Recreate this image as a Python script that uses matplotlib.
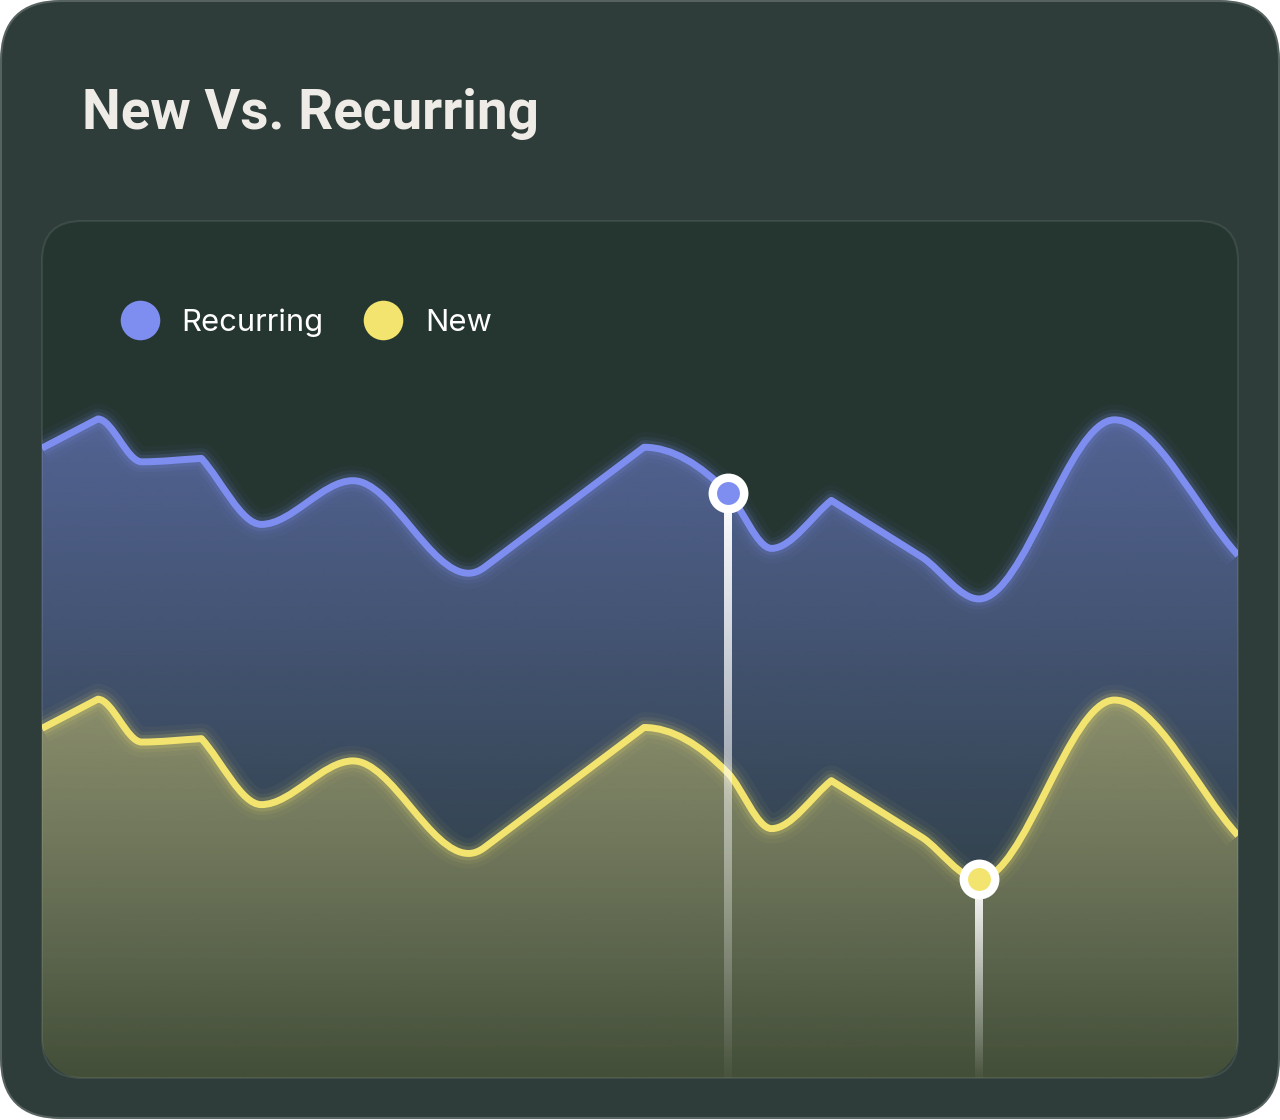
import numpy as np
import matplotlib
matplotlib.use("Agg")
import matplotlib.pyplot as plt
from matplotlib.path import Path
from matplotlib.patches import PathPatch, FancyBboxPatch, Polygon
from matplotlib.lines import Line2D
from matplotlib.transforms import Affine2D
from matplotlib.colors import to_rgba

# ---- data ----
days = [0, 1.4, 2.5, 4.0, 5.5, 7.8, 10.7, 11.1, 15.1, 17.2, 18.3, 19.8, 22.1, 23.5, 26.9, 30]
recurring = [73.5, 76.9, 71.9, 72.3, 64.6, 69.7, 58.9, 59.6, 73.6, 68.3, 61.8, 67.4, 60.7, 55.9, 76.8, 61.0]
new = [40.8, 44.2, 39.2, 39.6, 31.9, 37.0, 26.2, 26.9, 40.9, 35.6, 29.1, 34.7, 28.0, 23.2, 44.1, 28.3]
highlight_recurring = 9
highlight_new = 13

BLUE = "#7d8ef0"
YELLOW = "#f2e46e"
CARD = "#2e3d3a"
PANEL = "#253530"

W, H = 1280, 1120

# where the curve has a kink: (left tangent, right tangent)
kinks = {1: ("chord", 0.0), 3: ("chord", "chord"), 7: ("chord+", "chord"), 8: ("chord", 0.0),
         11: ("chord", "chord"), 12: ("chord", None), 15: ("chord", None)}


def smooth_path(x, y, close_to=None):
    x = np.asarray(x, float)
    y = np.asarray(y, float)
    n = len(x)
    h = np.diff(x)
    s = np.diff(y) / h
    t = np.zeros(n)
    for i in range(1, n - 1):
        s0, s1 = s[i - 1], s[i]
        p = (s0 * h[i] + s1 * h[i - 1]) / (h[i - 1] + h[i])
        t[i] = (np.sign(s0) + np.sign(s1)) * min(abs(s0), abs(s1), 0.5 * abs(p))
    tl = t.copy()
    tr = t.copy()
    for i, (lk, rk) in kinks.items():
        if lk == "chord":
            tl[i] = s[i - 1]
        elif lk == "chord+":
            tl[i] = s[i]
        elif lk is not None:
            tl[i] = lk
        if rk == "chord":
            tr[i] = s[i]
        elif rk is not None:
            tr[i] = rk
    if 0 not in kinks:
        tr[0] = (3 * s[0] - tl[1]) / 2
    if n - 1 not in kinks:
        tl[-1] = (3 * s[-1] - tr[-2]) / 2

    verts = [(x[0], y[0])]
    codes = [Path.MOVETO]
    for i in range(n - 1):
        d = h[i] / 3
        verts += [(x[i] + d, y[i] + tr[i] * d),
                  (x[i + 1] - d, y[i + 1] - tl[i + 1] * d),
                  (x[i + 1], y[i + 1])]
        codes += [Path.CURVE4] * 3
    if close_to is not None:
        verts += [(x[-1], close_to), (x[0], close_to), (x[0], y[0])]
        codes += [Path.LINETO, Path.LINETO, Path.CLOSEPOLY]
    return Path(verts, codes)


def gradient_fill(ax, path, color, a_top, a_bot, top, z):
    rgba = np.zeros((256, 1, 4))
    rgba[..., :3] = to_rgba(color)[:3]
    rgba[:, 0, 3] = np.linspace(a_top, a_bot, 256)
    im = ax.imshow(rgba, extent=[days[0], days[-1], 0, top], aspect="auto",
                   origin="upper", interpolation="bilinear", zorder=z)
    im.set_clip_path(path, ax.transData)


def glow_line(ax, path, color, z):
    for lw, a in [(22, 0.04), (15, 0.07), (10, 0.14)]:
        ax.add_patch(PathPatch(path, fill=False, ec=color, lw=lw, alpha=a,
                               capstyle="butt", joinstyle="round", zorder=z))
    ax.add_patch(PathPatch(path, fill=False, ec=color, lw=5,
                           capstyle="butt", joinstyle="round", zorder=z + 0.1))


def drop_line(ax, x, y, z):
    rgba = np.ones((256, 1, 4))
    rgba[:, 0, 3] = np.linspace(1.0, 0.03, 256)
    half = 0.088
    ax.imshow(rgba, extent=[x - half, x + half, 0, y], aspect="auto",
              origin="upper", interpolation="bilinear", zorder=z)


fig = plt.figure(figsize=(W / 100, H / 100), dpi=100)
fig.patch.set_facecolor("white")
px = Affine2D().scale(1 / W, -1 / H).translate(0, 1) + fig.transFigure

card = FancyBboxPatch((1, 1), W - 2, H - 3, boxstyle="round,pad=0,rounding_size=60",
                      transform=px, fc=CARD, ec="#56625f", lw=1.5, zorder=-10)
fig.patches.append(card)

p_left, p_top, p_right, p_bot, r = 42, 221, 1238, 1078, 40
panel = FancyBboxPatch((p_left, p_top), p_right - p_left, p_bot - p_top,
                       boxstyle="round,pad=0,rounding_size=%d" % r,
                       transform=px, fc=PANEL, ec="none", zorder=-9)
fig.patches.append(panel)

ax = fig.add_axes([p_left / W, (H - p_bot) / H, (p_right - p_left) / W, (p_bot - p_top) / H])
ax.set_facecolor("none")
ax.axis("off")

rec_line = smooth_path(days, recurring)
rec_area = smooth_path(days, recurring, close_to=0)
new_line = smooth_path(days, new)
new_area = smooth_path(days, new, close_to=0)

gradient_fill(ax, rec_area, BLUE, 0.52, 0.0, max(recurring), 1)
glow_line(ax, rec_line, BLUE, 2)
gradient_fill(ax, new_area, YELLOW, 0.42, 0.15, max(new), 3)
glow_line(ax, new_line, YELLOW, 4)

for idx, vals, col in [(highlight_recurring, recurring, BLUE), (highlight_new, new, YELLOW)]:
    drop_line(ax, days[idx], vals[idx], 5)
    ax.plot([days[idx]], [vals[idx]], marker="o", ms=22.6, mew=6.1, mfc=col,
            mec="white", zorder=6)

ax.set_xlim(days[0], days[-1])
ax.set_ylim(0, 100)

# cover the fills outside the rounded bottom corners of the panel
th = np.radians(np.linspace(90, 180, 40))
bl = [(p_left - 1, p_bot - r), (p_left - 1, p_bot + 1), (p_left + r, p_bot + 1)] + \
     list(zip(p_left + r + r * np.cos(th), p_bot - r + r * np.sin(th)))
th = np.radians(np.linspace(0, 90, 40))
br = [(p_right - r, p_bot + 1), (p_right + 1, p_bot + 1), (p_right + 1, p_bot - r)] + \
     list(zip(p_right - r + r * np.cos(th), p_bot - r + r * np.sin(th)))
for pts in (bl, br):
    fig.patches.append(Polygon(pts, closed=True, transform=px, fc=CARD, ec="none", zorder=5))

border = FancyBboxPatch((p_left, p_top), p_right - p_left, p_bot - p_top,
                        boxstyle="round,pad=0,rounding_size=%d" % r,
                        transform=px, fc="none", ec=(1, 1, 1, 0.09), lw=1.5, zorder=6)
fig.patches.append(border)

fig.text(82, 129, "New Vs. Recurring", transform=px, fontsize=39.5, fontweight="bold",
         family=["Roboto", "DejaVu Sans"], color="#efece7", va="baseline", zorder=7)

legend = [("Recurring", BLUE, 140, 181), ("New", YELLOW, 383, 425)]
for label, col, cx, tx in legend:
    fig.add_artist(Line2D([cx], [320], transform=px, marker="o", ms=28.5, mew=0,
                          mfc=col, zorder=7))
    fig.text(tx, 331, label, transform=px, fontsize=22.3, color="white",
             family=["Inter", "DejaVu Sans"], va="baseline", zorder=7)

fig.savefig("out.png", dpi=100, facecolor="white")
